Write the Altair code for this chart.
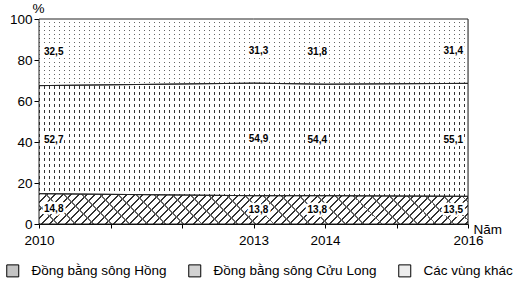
import math
import altair as alt
import pandas as pd

years = [2010, 2013, 2014, 2016]
regions = ["Đồng bằng sông Hồng", "Đồng bằng sông Cửu Long", "Các vùng khác"]
hong = [14.8, 13.8, 13.8, 13.5]
cuulong = [52.7, 54.9, 54.4, 55.1]
khac = [32.5, 31.3, 31.8, 31.4]
y_ticks = [0, 20, 40, 60, 80, 100]
x_ticks = [2010, 2011, 2012, 2013, 2014, 2015, 2016]

FONT = "Liberation Sans"
W, H = 429, 205  # plot area size in px
series = [hong, cuulong, khac]

rows = []
for i, yr in enumerate(years):
    low = 0.0
    for k, (name, vals) in enumerate(zip(regions, series)):
        v = vals[i]
        rows.append({"year": yr, "region": name, "order": k, "value": v,
                     "lower": low, "upper": low + v, "mid": low + v / 2,
                     "label": f"{v:.1f}".replace(".", ",")})
        low += v
df = pd.DataFrame(rows)


def px(v):
    return (1 - v / 100.0) * H


def bbox_h(name):
    d = df[df.region == name]
    return px(d.lower.min()) - px(d.upper.max())


def stripe_stops(period, width, length, on, off):
    P, w = period / length, width / length
    stops, a = [], 0.0
    while a < 1:
        b = min(a + w, 1.0)
        c = min(a + P, 1.0)
        stops += [{"offset": a, "color": on}, {"offset": b, "color": on},
                  {"offset": b, "color": off}, {"offset": c, "color": off}]
        a += P
    return stops


def vstripes(period, width, on, off):
    return {"gradient": "linear", "x1": 0, "y1": 0, "x2": 1, "y2": 0,
            "stops": stripe_stops(period, width, W, on, off)}


def hstripes(period, width, hh, on, off):
    return {"gradient": "linear", "x1": 0, "y1": 0, "x2": 0, "y2": 1,
            "stops": stripe_stops(period, width, hh, on, off)}


def diag_up(period, width, hh, on, off):
    r = hh / W
    k = (1 + r) / (1 + r * r)
    return {"gradient": "linear", "x1": 0, "y1": 0, "x2": k, "y2": k * r,
            "stops": stripe_stops(period, width, W + hh, on, off)}


def diag_down(period, width, hh, on, off):
    r = hh / W
    k = (1 + r) / (1 + r * r)
    return {"gradient": "linear", "x1": 0, "y1": 1, "x2": k, "y2": 1 - k * r,
            "stops": stripe_stops(period, width, W + hh, on, off)}


CLEAR = "rgba(255,255,255,0)"
x_enc = alt.X("year:Q", scale=alt.Scale(domain=[2010, 2016], nice=False, zero=False),
              axis=alt.Axis(values=x_ticks, format="d",
                            labelExpr="indexof([2010,2013,2014,2016], datum.value) >= 0 ? datum.label : ''",
                            title="Năm", titleAngle=0, titleAlign="left", titleBaseline="middle",
                            titleX=434, titleY=5, titleFontWeight="normal", titleFontSize=13.5,
                            titleFont=FONT, labelFont=FONT, labelFontSize=13.5, labelColor="#000",
                            tickSize=4, tickColor="#000", domainColor="#000", grid=False,
                            labelPadding=5, labelFlush=False))
y_scale = alt.Scale(domain=[0, 100], nice=False)
y_enc = alt.Y("upper:Q", scale=y_scale,
              axis=alt.Axis(values=y_ticks, title="%", titleAngle=0, titleAlign="left",
                            titleBaseline="bottom", titleX=-7, titleY=-4,
                            titleFontWeight="normal", titleFontSize=13.5, titleFont=FONT,
                            labelFont=FONT, labelFontSize=13.5, labelColor="#000",
                            tickSize=5, tickColor="#000", domainColor="#000", grid=False,
                            labelPadding=2))

base = alt.Chart(df)


def region_area(name, fill):
    return base.transform_filter(alt.datum.region == name).mark_area(
        fill=fill, strokeWidth=0).encode(x=x_enc, y=y_enc, y2="lower:Q")


h_top = bbox_h(regions[2])
h_mid = bbox_h(regions[1])
h_bot = bbox_h(regions[0])

layers = [
    # Các vùng khác: sparse dots
    region_area(regions[2], vstripes(5, 1, "#666666", "#ffffff")),
    region_area(regions[2], hstripes(4, 3, h_top, "#ffffff", CLEAR)),
    # Cửu Long: vertical dashes
    region_area(regions[1], vstripes(5, 1, "#333333", "#ffffff")),
    region_area(regions[1], hstripes(6, 2.5, h_mid, "#ffffff", CLEAR)),
    # Hồng: lattice hatch
    region_area(regions[0], diag_up(8, 1.5, h_bot, "#333333", "#ffffff")),
    region_area(regions[0], diag_down(18, 1.3, h_bot, "#666666", CLEAR)),
]

outline = base.mark_area(fillOpacity=0, stroke="#222222", strokeWidth=1).encode(
    x=x_enc, y=y_enc, y2="lower:Q", detail="region:N")

legend_layer = base.mark_rect(strokeWidth=0).encode(
    x=alt.value(0), x2=alt.value(0), y=alt.value(0), y2=alt.value(0),
    color=alt.Color("region:N", sort=regions,
                    scale=alt.Scale(domain=regions, range=["#c4c4c4", "#d2d2d2", "#ededed"]),
                    legend=alt.Legend(title=None, orient="none", direction="horizontal",
                                      legendX=-33, legendY=245, symbolType="square",
                                      symbolSize=144, symbolStrokeColor="#000",
                                      symbolStrokeWidth=1, symbolOpacity=1,
                                      labelFont=FONT, labelFontSize=13.5, labelLimit=300,
                                      labelColor="#000", labelOffset=12, columnPadding=19)),
)

text_common = dict(fontSize=10, fontWeight="bold", font=FONT, baseline="middle")


def lbl(yr, align, dx, halo):
    style = dict(color="#ffffff", stroke="#ffffff", strokeWidth=5, strokeJoin="round") if halo \
        else dict(color="#000000")
    return base.transform_filter(alt.datum.year == yr).mark_text(
        align=align, dx=dx, **text_common, **style).encode(
        x="year:Q", y=alt.Y("mid:Q", scale=y_scale), text="label:N")


specs = [(2010, "left", 5), (2013, "center", 5), (2014, "right", 2), (2016, "right", -5)]
labels = [lbl(*s, True) for s in specs] + [lbl(*s, False) for s in specs]

chart = alt.layer(*layers, outline, legend_layer, *labels).properties(
    width=W, height=H, autosize="none",
    padding={"left": 39, "top": 19, "right": 50, "bottom": 66},
).configure_view(stroke=None).configure(background="white")

chart.save("out.html", embed_options={"renderer": "svg", "actions": False})
